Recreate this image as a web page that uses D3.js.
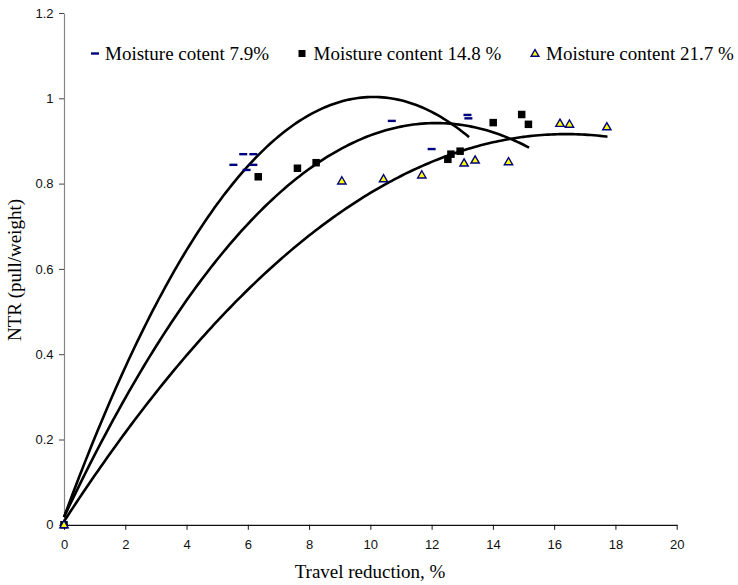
<!DOCTYPE html>
<html><head><meta charset="utf-8">
<script src="https://cdn.jsdelivr.net/npm/d3@7"></script>
<style>body{margin:0;background:#fff;overflow:hidden}</style>
</head><body><svg id="c" width="738" height="585"></svg>
<script>
// ---- data ----
const xTicks = [0, 2, 4, 6, 8, 10, 12, 14, 16, 18, 20];
const yTicks = [0, 0.2, 0.4, 0.6, 0.8, 1, 1.2];
const seriesNames = ["Moisture cotent 7.9%", "Moisture content 14.8 %", "Moisture content 21.7 %"];
const s1x = [0, 5.53, 5.85, 5.96, 6.18, 6.18, 10.70, 12.00, 13.17, 13.20];
const s1y = [0, 0.844, 0.869, 0.832, 0.869, 0.844, 0.947, 0.881, 0.961, 0.953];
const s2x = [0, 6.34, 7.62, 8.23, 12.53, 12.63, 12.93, 14.01, 14.94, 15.16];
const s2y = [0, 0.816, 0.836, 0.849, 0.857, 0.869, 0.876, 0.943, 0.962, 0.939];
const s3x = [0, 9.07, 10.43, 11.68, 13.06, 13.42, 14.51, 16.19, 16.50, 17.72];
const s3y = [0, 0.806, 0.811, 0.820, 0.848, 0.855, 0.851, 0.941, 0.939, 0.933];
// polynomial trendlines y = a + b x + c x^2, drawn from 0 to xmax
const trendA = [0.018, 0.018, 0.008];
const trendB = [0.1951, 0.1521, 0.1108];
const trendC = [-0.00966, -0.00626, -0.00338];
const trendXmax = [13.22, 15.18, 17.74];

// ---- layout ----
const svg = d3.select("#c");
const L = 64, R = 676.7, T = 13, B = 524.8;
const x = d3.scaleLinear().domain([0, 20]).range([L, R]);
const y = d3.scaleLinear().domain([0, 1.2]).range([B, T]);
const sans = "'Liberation Sans', Arial, sans-serif";
const serif = "'Liberation Serif', 'Times New Roman', serif";

// axes
const yAx = svg.append("g").attr("transform", `translate(${L},0)`)
  .call(d3.axisLeft(y).tickValues(yTicks).tickSize(5).tickSizeOuter(0).tickPadding(5.5)
    .tickFormat(d => String(+d.toFixed(1))));
yAx.select(".domain").attr("stroke", "#858585").attr("stroke-width", 1.2);
yAx.selectAll(".tick line").attr("stroke", "#444");
yAx.selectAll("text").attr("font-family", sans).attr("font-size", 13).attr("fill", "#111");

const xAx = svg.append("g").attr("transform", `translate(0,${B})`)
  .call(d3.axisBottom(x).tickValues(xTicks).tickSize(5).tickSizeOuter(0).tickPadding(9.5));
xAx.select(".domain").attr("stroke", "#111").attr("stroke-width", 1.2);
xAx.selectAll(".tick line").attr("stroke", "#111");
xAx.selectAll("text").attr("font-family", sans).attr("font-size", 13).attr("fill", "#111");

// titles
svg.append("text").attr("x", 370).attr("y", 578).attr("text-anchor", "middle")
  .attr("font-family", serif).attr("font-size", 19).text("Travel reduction, %");
svg.append("text").attr("transform", "translate(21,270) rotate(-90)").attr("text-anchor", "middle")
  .attr("font-family", serif).attr("font-size", 19).text("NTR (pull/weight)");

// trendlines
const line = d3.line().x(d => x(d[0])).y(d => y(d[1]));
for (let i = 0; i < 3; i++) {
  const xs = d3.range(0, trendXmax[i], 0.1).concat([trendXmax[i]]);
  const pts = xs.map(v => [v, trendA[i] + trendB[i] * v + trendC[i] * v * v]);
  svg.append("path").attr("d", line(pts)).attr("fill", "none")
    .attr("stroke", "#000").attr("stroke-width", 2.6).attr("stroke-linecap", "butt");
}

// markers
const navy = "#000080";
function dash(g, cx, cy) {
  g.append("rect").attr("x", cx - 4).attr("y", cy - 1.2).attr("width", 8).attr("height", 2.4).attr("fill", navy);
}
function square(g, cx, cy, s) {
  g.append("rect").attr("x", cx - s / 2).attr("y", cy - s / 2).attr("width", s).attr("height", s).attr("fill", "#000");
}
const triSym = d3.symbol().type(d3.symbolTriangle).size(30);
function tri(g, cx, cy, sz) {
  g.append("path").attr("d", d3.symbol().type(d3.symbolTriangle).size(sz)())
    .attr("transform", `translate(${cx},${cy + 0.5})`)
    .attr("fill", "#ffff00").attr("stroke", navy).attr("stroke-width", 1.4);
}
const gm = svg.append("g");
s1x.forEach((v, i) => dash(gm, x(v), y(s1y[i])));
s2x.forEach((v, i) => square(gm, x(v), y(s2y[i]), 7.5));
s3x.forEach((v, i) => tri(gm, x(v), y(s3y[i]), 30));

// legend
const lg = svg.append("g");
dash(lg, 95, 53.5);
lg.append("text").attr("x", 105).attr("y", 59.5).attr("font-family", serif).attr("font-size", 19).text(seriesNames[0]);
square(lg, 302, 53.5, 7);
lg.append("text").attr("x", 313.5).attr("y", 59.5).attr("font-family", serif).attr("font-size", 19).text(seriesNames[1]);
tri(lg, 535, 53.5, 26);
lg.append("text").attr("x", 546).attr("y", 59.5).attr("font-family", serif).attr("font-size", 19).text(seriesNames[2]);
</script>
</body></html>
